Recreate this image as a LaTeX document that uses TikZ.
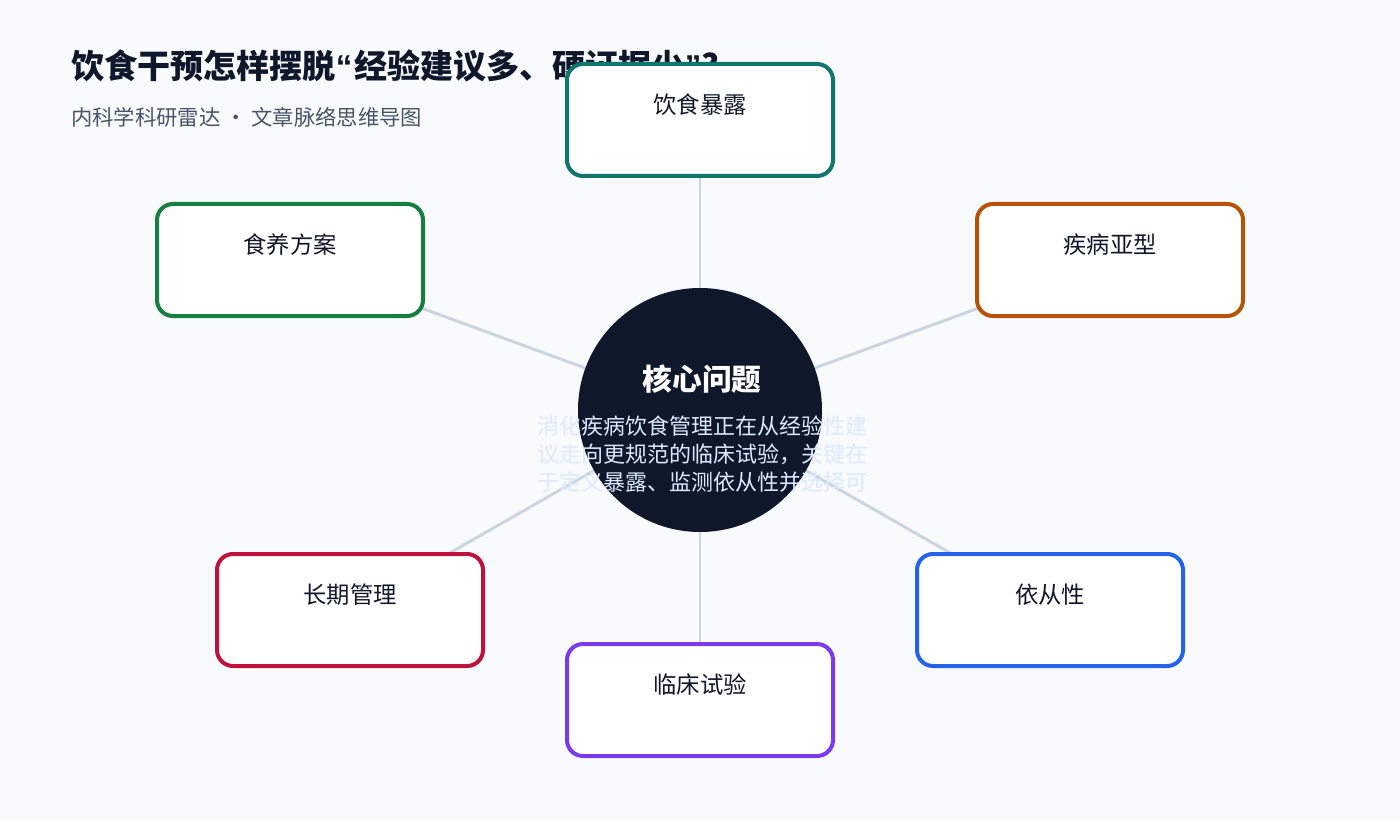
\documentclass[tikz,border=0pt]{standalone}
\usepackage{fontspec}
\setmainfont{Noto Sans CJK SC}
\newfontfamily\quotefont{Liberation Sans}
\usetikzlibrary{%
  positioning,% wg. " of "
  calc%
}
\pgfdeclarelayer{back}
\pgfdeclarelayer{links}
\pgfsetlayers{back,links,main}

\definecolor{pagebg}{HTML}{F8FAFC}
\definecolor{ink}{HTML}{0F172A}
\definecolor{subink}{HTML}{475569}
\definecolor{linkcol}{HTML}{CBD5E1}
\definecolor{hubtext}{HTML}{DBEAFE}
\definecolor{cteal}{HTML}{0F766E}
\definecolor{corange}{HTML}{B45309}
\definecolor{cblue}{HTML}{2563EB}
\definecolor{cpurple}{HTML}{7C3AED}
\definecolor{cred}{HTML}{BE123C}
\definecolor{cgreen}{HTML}{15803D}

\begin{document}
\begin{tikzpicture}[
  x=0.75pt, y=-0.75pt,
  topic/.style={draw, fill=white, line width=3pt, rounded corners=12pt,
    minimum width=199.5pt, minimum height=84pt},
  topiclabel/.style={font=\fontsize{17.5pt}{21pt}\selectfont, text=ink},
  link/.style={draw=linkcol, line width=2.2pt},
]

\begin{pgfonlayer}{back}
\fill[pagebg] (0,0) rectangle (1400,820);
\end{pgfonlayer}
\useasboundingbox (0,0) rectangle (1400,820);

% title
\node[anchor=west, inner sep=0pt, font=\fontsize{24.8pt}{29pt}\selectfont\bfseries, text=ink]
  (title) at (71,66) {饮食干预怎样摆脱{\quotefont\bfseries “}\kern1.5pt 经验建议多、硬证据少{\quotefont\bfseries ”}?};
\node[anchor=west, inner sep=0pt, font=\fontsize{16pt}{19pt}\selectfont, text=subink]
  (subtitle) at (71,117) {内科学科研雷达 · 文章脉络思维导图};

% hub
\node[circle, fill=ink, minimum size=183pt, inner sep=0pt] (hub) at (700,410) {};
\node[font=\fontsize{22.3pt}{26pt}\selectfont\bfseries, text=white] (hubtitle) at (702,379) {核心问题};
\node[font=\fontsize{16.5pt}{21pt}\selectfont, text=hubtext, align=center] (hubbody) at (702,454)
  {消化疾病饮食管理正在从经验性建\\议走向更规范的临床试验，关键在\\于定义暴露、监测依从性并选择可};

% topics
\foreach \name/\x/\y/\col/\txt in {
  exposure/700/120/cteal/饮食暴露,
  subtype/1110/260/corange/疾病亚型,
  adherence/1050/610/cblue/依从性,
  trial/700/700/cpurple/临床试验,
  longterm/350/610/cred/长期管理,
  regimen/290/260/cgreen/食养方案%
} {
  \node[topic, draw=\col] (\name) at (\x,\y) {};
  \node[topiclabel] (\name-l) at ([yshift=-32pt]\name.north) {\txt};
  \begin{pgfonlayer}{links}
  \draw[link] (hub.center) -- (\name.center);
  \end{pgfonlayer}
}

\end{tikzpicture}
\end{document}
